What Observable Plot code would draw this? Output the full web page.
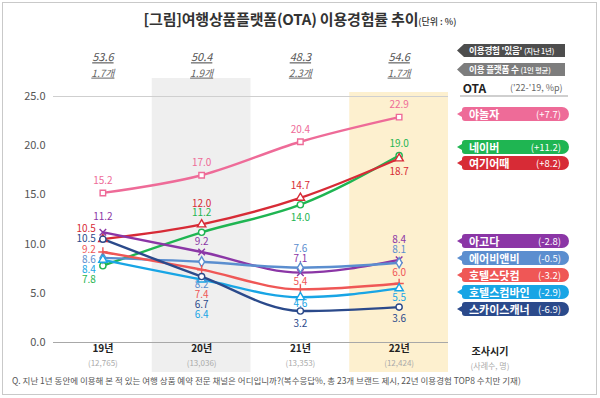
<!DOCTYPE html>
<html><head><meta charset="utf-8">
<script src="https://cdn.jsdelivr.net/npm/d3@7"></script>
<script src="https://cdn.jsdelivr.net/npm/@observablehq/plot@0.6"></script>
<style>
body{margin:0;background:#fff;font-family:"Noto Sans CJK KR","Noto Sans",sans-serif;}
#wrap{position:relative;width:600px;height:398px;overflow:hidden;background:#fff;}
#chart{position:absolute;left:0;top:0;}
.frame{position:absolute;left:2px;top:2px;width:595px;height:393px;border:1px solid #c9c9c9;box-sizing:border-box;pointer-events:none;}
.title{position:absolute;top:8px;left:0;width:600px;text-align:center;font-size:15px;font-weight:700;color:#333;letter-spacing:-0.2px;white-space:nowrap;}
.title small{font-size:9px;font-weight:500;letter-spacing:0;}
.htag{position:absolute;left:457px;width:108px;height:13px;color:#fff;font-size:8.6px;font-weight:700;line-height:13px;padding-left:12px;box-sizing:border-box;clip-path:polygon(7px 0,100% 0,100% 100%,7px 100%,0 50%);white-space:nowrap;letter-spacing:-0.2px;}
.htag small{font-size:7.4px;font-weight:500;}
.ota{position:absolute;left:460px;top:80px;width:108px;height:15px;border-bottom:2px solid #cfcfcf;font-size:12px;font-weight:700;color:#222;line-height:15px;}
.ota span{position:absolute;left:50px;font-size:9px;font-weight:400;color:#666;}
.tag{position:absolute;left:462px;width:107px;height:14px;border-radius:3px 7px 7px 3px;color:#fff;font-size:11px;font-weight:700;line-height:14px;padding-left:7px;box-sizing:border-box;white-space:nowrap;}
.tag::before{content:"";position:absolute;left:-5px;top:4px;border-style:solid;border-width:3px 5px 3px 0;border-color:transparent var(--c) transparent transparent;}
.tag span{position:absolute;right:8px;font-size:9.5px;font-weight:400;}
.xlab{position:absolute;left:460px;width:60px;text-align:center;}
.xlab b{display:block;font-size:10px;color:#222;}
.xlab i{display:block;font-style:normal;font-size:8px;color:#aaa;margin-top:2px;}
.foot{position:absolute;left:12px;top:374px;font-size:8.5px;color:#555;white-space:nowrap;}
</style></head>
<body>
<div id="wrap">
  <div id="chart"></div>
  <div class="title">[그림]여행상품플랫폼(OTA) 이용경험률 추이<small>(단위 : %)</small></div>
  <div class="htag" style="top:44px;background:#4d4d4d">이용경험 '있음' <small>(지난 1년)</small></div>
  <div class="htag" style="top:63px;background:#7d7d7d">이용 플랫폼 수 <small>(1인 평균)</small></div>
  <div class="ota">&nbsp;OTA<span>('22-'19, %p)</span></div>
  <div class="xlab" style="top:343px"><b>조사시기</b><i>(사례수, 명)</i></div>
  <div class="foot">Q. 지난 1년 동안에 이용해 본 적 있는 여행 상품 예약 전문 채널은 어디입니까?(복수응답%, 총 23개 브랜드 제시, 22년 이용경험 TOP8 수치만 기재)</div>
  <div class="frame"></div>
</div>
<script>
// ---- data ----
const years = ["19년", "20년", "21년", "22년"];
const samples = ["(12,765)", "(13,036)", "(13,353)", "(12,424)"];
const experience = ["53.6", "50.4", "48.3", "54.6"];
const platforms = ["1.7개", "1.9개", "2.3개", "1.7개"];
const brands = ["야놀자", "네이버", "여기어때", "아고다", "에어비앤비", "호텔스닷컴", "호텔스컴바인", "스카이스캐너"];
const yanolja = [15.2, 17.0, 20.4, 22.9];
const naver = [7.8, 11.2, 14.0, 19.0];
const yeogi = [10.5, 12.0, 14.7, 18.7];
const agoda = [11.2, 9.2, 7.1, 8.4];
const airbnb = [8.6, 8.2, 7.6, 8.1];
const hotelscom = [9.2, 7.4, 5.4, 6.0];
const combined = [8.4, 6.4, 4.6, 5.5];
const skyscanner = [10.5, 6.7, 3.2, 3.6];
const changes = ["+7.7", "+11.2", "+8.2", "-2.8", "-0.5", "-3.2", "-2.9", "-6.9"];

// ---- styling / layout ----
const seriesValues = [yanolja, naver, yeogi, agoda, airbnb, hotelscom, combined, skyscanner];
const colors = ["#ee6b98", "#1fb552", "#d72b36", "#8b36a6", "#5b8ecf", "#ef5756", "#18a5e5", "#2b4a8b"];
const symbols = ["square", "circle", "triangle", "times", "diamond", "plus", "triangle", "circle"];
const labelDy = [
  [-12, -12, -12, -12],
  [14, -19, 13, -12],
  [-10, -21, -12, 13],
  [-15, -10, -14, -20],
  [2, 23, -19, -13],
  [-2.5, 25, -8, -11],
  [10, 35, 7, 9],
  [0, 28, 13, 12]
];
const firstLeft = [false, true, true, false, true, true, true, true];
const tagTops = [107, 140, 156, 234, 251, 268, 285, 302];

const marks = [
  Plot.rect([1], {x1: d => d - 0.5, x2: d => d + 0.5, fill: "#efefef", insetTop: -18, insetBottom: -30}),
  Plot.rect([3], {x1: d => d - 0.5, x2: d => d + 0.5, fill: "#fdf0cf", insetTop: -4, insetBottom: -30}),
  Plot.ruleY([25], {stroke: "#cfcfcf"}),
  Plot.ruleY([0], {stroke: "#a8a8a8"}),
  Plot.axisY({ticks: [0, 5, 10, 15, 20, 25], tickFormat: d => d.toFixed(1), tickSize: 0, tickPadding: 8, fontSize: 11, color: "#555", label: null}),
  Plot.text([0, 1, 2, 3], {x: d => d, text: d => experience[d], frameAnchor: "top", dy: -43, fontSize: 11, fontStyle: "italic", fill: "#555"}),
  Plot.text([0, 1, 2, 3], {x: d => d, text: d => platforms[d], frameAnchor: "top", dy: -27, fontSize: 10, fontStyle: "italic", fill: "#666"}),
  Plot.text([0, 1, 2, 3], {x: d => d, text: d => years[d], frameAnchor: "bottom", dy: 9, fontSize: 10, fontWeight: 700, fill: "#222"}),
  Plot.text([0, 1, 2, 3], {x: d => d, text: d => samples[d], frameAnchor: "bottom", dy: 23, fontSize: 8, fill: "#aaa"})
];

seriesValues.forEach((vals, s) => {
  const rows = vals.map((v, i) => ({i, v}));
  marks.push(Plot.line(rows, {x: "i", y: "v", stroke: colors[s], strokeWidth: 2.4, curve: "monotone-x"}));
});
seriesValues.forEach((vals, s) => {
  const rows = vals.map((v, i) => ({i, v}));
  marks.push(Plot.dot(rows, {x: "i", y: "v", symbol: symbols[s], stroke: colors[s], fill: "white", r: 3.1, strokeWidth: 1.4}));
});
seriesValues.forEach((vals, s) => {
  vals.forEach((v, i) => {
    const left = i === 0 && firstLeft[s];
    marks.push(Plot.text([{i, v}], {x: "i", y: "v", text: d => d.v.toFixed(1), fill: colors[s], fontSize: 10,
      dy: labelDy[s][i], dx: left ? -7 : 0, textAnchor: left ? "end" : "middle"}));
  });
});

const plot = Plot.plot({
  width: 600, height: 398,
  marginTop: 96, marginBottom: 56, marginLeft: 53, marginRight: 152,
  x: {type: "linear", domain: [-0.5, 3.5], axis: null},
  y: {domain: [0, 25], axis: null},
  style: {fontFamily: "'Noto Sans CJK KR','Noto Sans',sans-serif", background: "transparent", overflow: "visible"},
  marks: marks
});
document.getElementById("chart").appendChild(plot);

d3.select(plot).selectAll("text").filter(function(){ return experience.includes(this.textContent) || platforms.includes(this.textContent); })
  .style("text-decoration", "underline");

const wrap = document.getElementById("wrap");
brands.forEach((b, s) => {
  const t = document.createElement("div");
  t.className = "tag";
  t.style.top = tagTops[s] + "px";
  t.style.background = colors[s];
  t.style.setProperty("--c", colors[s]);
  t.innerHTML = b + "<span>(" + changes[s] + ")</span>";
  wrap.insertBefore(t, wrap.querySelector(".frame"));
});
</script>
</body></html>
